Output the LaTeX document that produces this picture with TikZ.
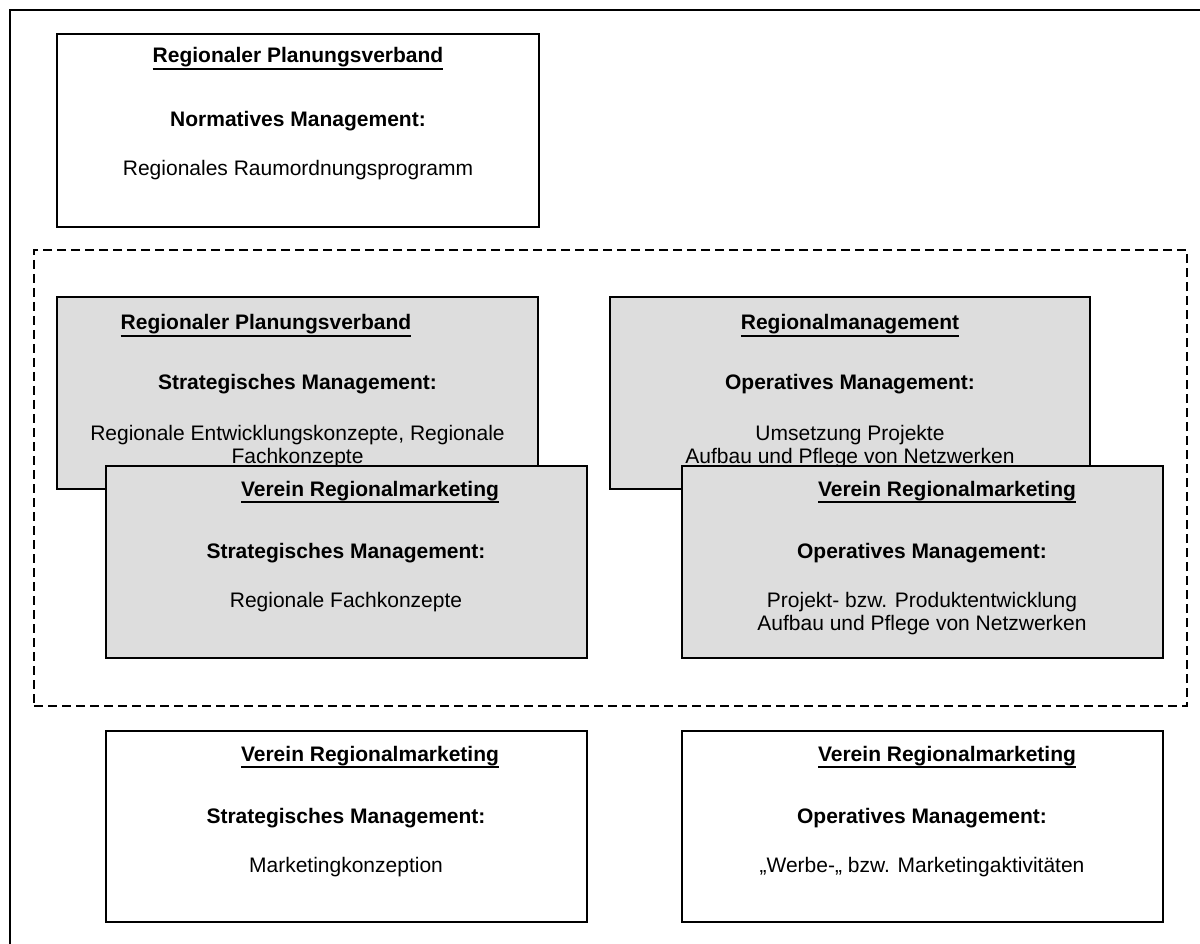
\documentclass[tikz,border=0pt]{standalone}
\usepackage{fontspec}
\setmainfont{Liberation Sans}
\definecolor{boxgray}{RGB}{221,221,221}
% bold heading with a solid rule just under the descenders
\newcommand\ulhead[1]{\setbox0\hbox{#1}\rlap{\rule[-7pt]{\wd0}{1.9pt}}\box0}
\begin{document}
\begin{tikzpicture}[x=1pt,y=-1pt,
  every node/.style={inner sep=0pt, outer sep=0pt},
  plainbox/.style={draw=black, line width=1.4pt, fill=white, anchor=north west},
  greybox/.style={draw=black, line width=1.4pt, fill=boxgray, anchor=north west},
  group/.style={draw=black, line width=1.3pt, dash pattern=on 9pt off 5pt, anchor=north west},
  hd/.style={anchor=base, font=\fontsize{21}{24}\selectfont\bfseries},
  txt/.style={anchor=base, font=\fontsize{21}{24}\selectfont, align=center}]
\useasboundingbox (0,0) rectangle (1200,944);
\fill[white] (0,0) rectangle (1200,944);

% outer frame, running past the page edge on the right and at the bottom
\begin{scope}
  \clip (0,0) rectangle (1200,944);
  \draw[line width=2pt] (10,960) -- (10,10) -- (1220,10);
\end{scope}

% dashed group around the four shaded boxes
\node[group, minimum width=1153pt, minimum height=456pt] (grp) at (34,250) {};

% normative level
\node[plainbox, minimum width=482pt, minimum height=193pt] (norm) at (57,34) {};
\node[hd]  (normH) at (298,63)  {\ulhead{Regionaler Planungsverband}};
\node[hd]  (normM) at (298,127) {Normatives Management:};
\node[txt] (normT) at (298,176) {Regionales Raumordnungsprogramm};

% shaded back row
\node[greybox, minimum width=481pt, minimum height=192pt] (rpv) at (57,297) {};
\node[hd]  (rpvH) at (266,330) {\ulhead{Regionaler Planungsverband}};
\node[hd]  (rpvM) at (297.5,389) {Strategisches Management:};
\node[txt] (rpvT) at (297.5,440) {Regionale Entwicklungskonzepte, Regionale};
\node[txt] (rpvU) at (297.5,463) {Fachkonzepte};

\node[greybox, minimum width=480pt, minimum height=192pt] (rm) at (610,297) {};
\node[hd]  (rmH) at (850,330) {\ulhead{Regionalmanagement}};
\node[hd]  (rmM) at (850,389) {Operatives Management:};
\node[txt] (rmT) at (850,440) {Umsetzung Projekte};
\node[txt] (rmU) at (850,463) {Aufbau und Pflege von Netzwerken};

% shaded front row
\node[greybox, minimum width=481pt, minimum height=192pt] (vs) at (106,466) {};
\node[hd]  (vsH) at (370,496) {\ulhead{Verein Regionalmarketing}};
\node[hd]  (vsM) at (346,558) {Strategisches Management:};
\node[txt] (vsT) at (346,607) {Regionale Fachkonzepte};

\node[greybox, minimum width=481pt, minimum height=192pt] (vo) at (682,466) {};
\node[hd]  (voH) at (947,496) {\ulhead{Verein Regionalmarketing}};
\node[hd]  (voM) at (922,558) {Operatives Management:};
\node[txt] (voT) at (922,607) {Projekt- bzw. Produktentwicklung};
\node[txt] (voU) at (922,630) {Aufbau und Pflege von Netzwerken};

% marketing level
\node[plainbox, minimum width=481pt, minimum height=191pt] (ms) at (106,731) {};
\node[hd]  (msH) at (370,761) {\ulhead{Verein Regionalmarketing}};
\node[hd]  (msM) at (346,823) {Strategisches Management:};
\node[txt] (msT) at (346,872) {Marketingkonzeption};

\node[plainbox, minimum width=481pt, minimum height=191pt] (mo) at (682,731) {};
\node[hd]  (moH) at (947,761) {\ulhead{Verein Regionalmarketing}};
\node[hd]  (moM) at (922,823) {Operatives Management:};
\node[txt] (moT) at (922,872) {„Werbe-„ bzw. Marketingaktivitäten};
\end{tikzpicture}
\end{document}
